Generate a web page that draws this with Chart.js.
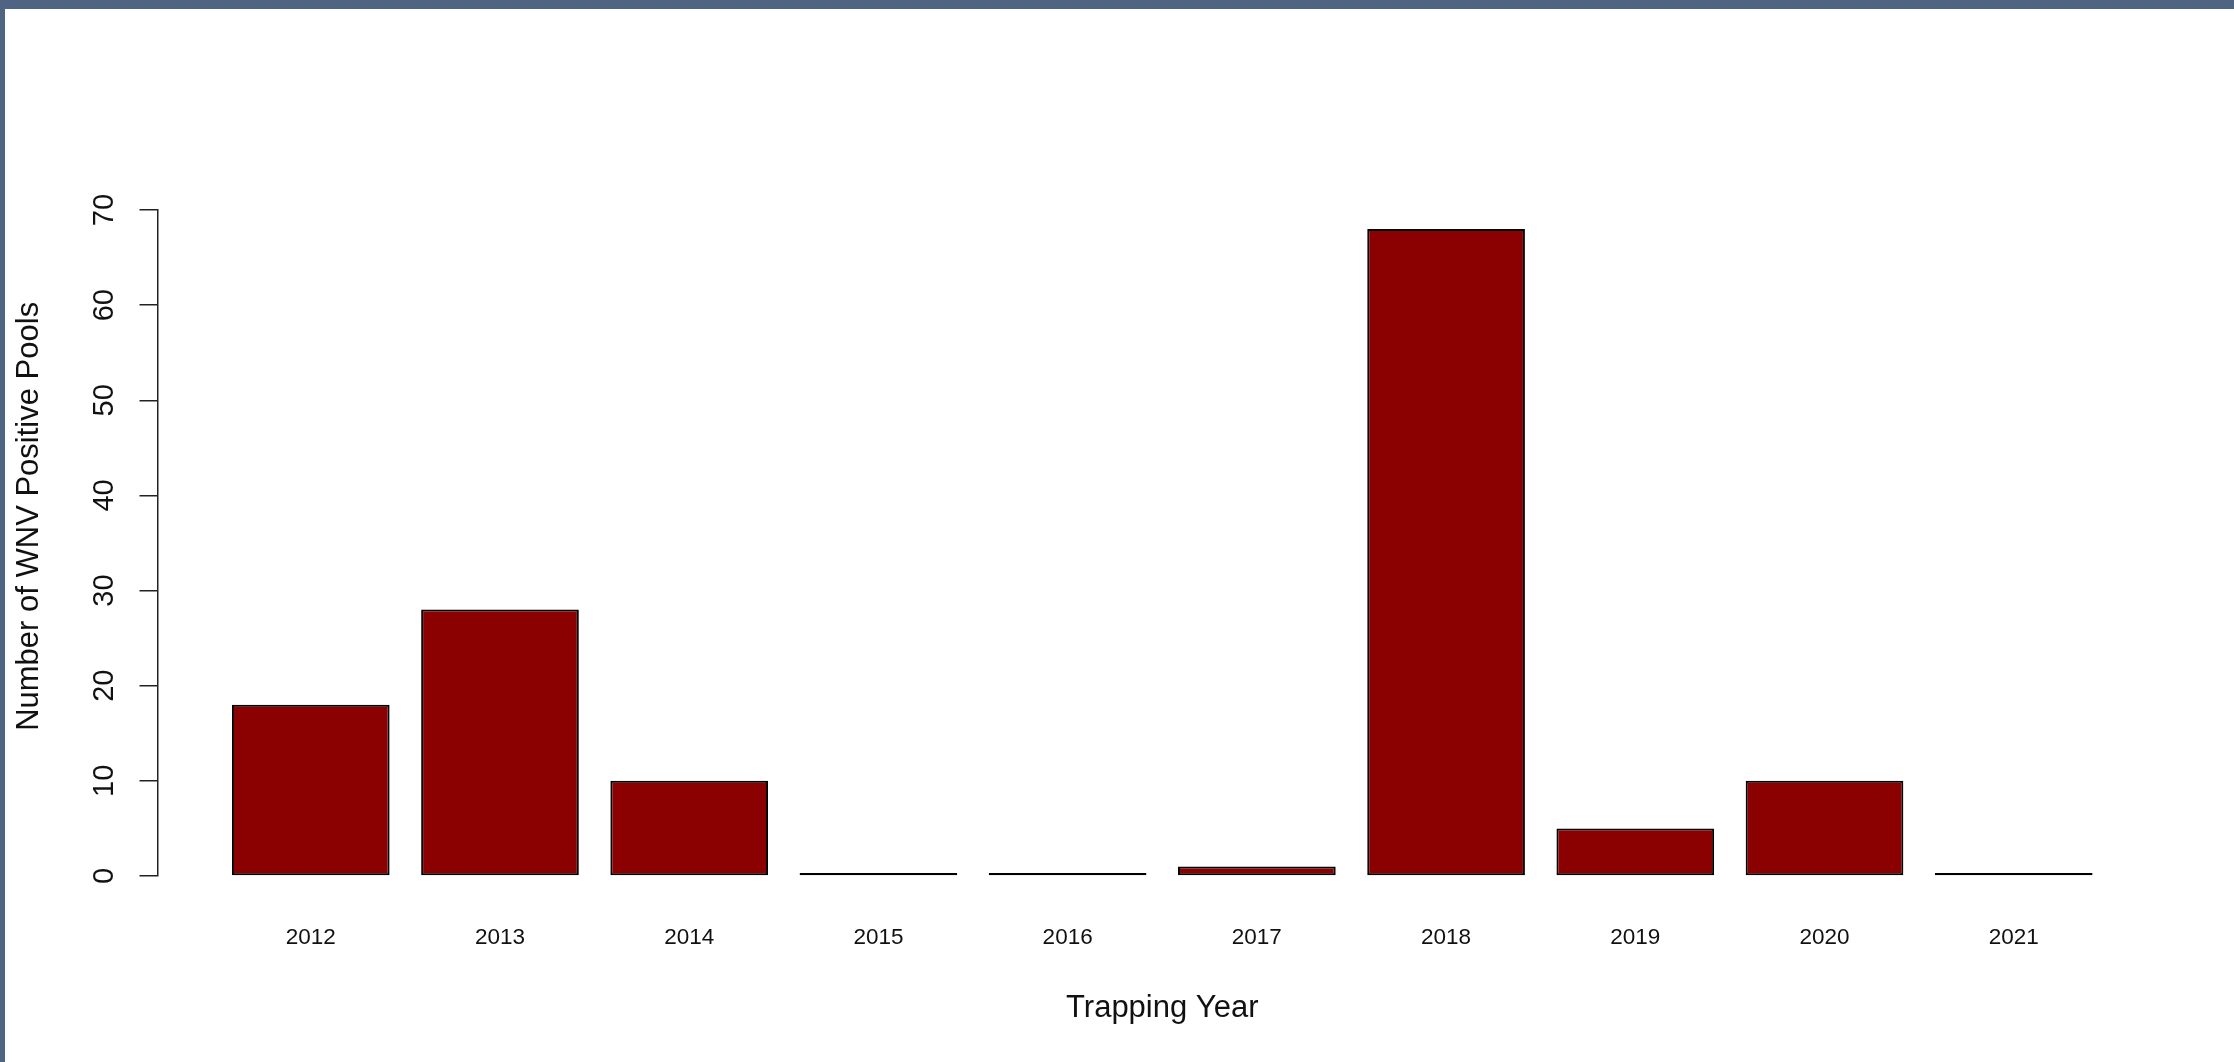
<!DOCTYPE html>
<html>
<head>
<meta charset="utf-8">
<title>WNV Positive Pools by Trapping Year</title>
<script src="https://cdn.jsdelivr.net/npm/chart.js@4.4.1/dist/chart.umd.min.js"></script>
<style>
  html, body { margin:0; padding:0; background:#fff; }
  .frame {
    position:absolute; left:0; top:0;
    width:2234px; height:1062px;
    box-sizing:border-box;
    border-top:9px solid #4f6482;
    border-left:5px solid #4f6482;
    background:#fff;
  }
  #wnv-chart { display:block; }
</style>
</head>
<body>
<div class="frame">
  <canvas id="wnv-chart" width="2229" height="1053"></canvas>
</div>

<script>
/* ═══════════════════════════════════
   DATA
═══════════════════════════════════ */
var years = [2012, 2013, 2014, 2015, 2016, 2017, 2018, 2019, 2020, 2021];
var positivePools = [18, 28, 10, 0, 0, 1, 68, 5, 10, 0];
var yTicks = [0, 10, 20, 30, 40, 50, 60, 70];

var FONT = "'Liberation Sans', Arial, sans-serif";
var Y_TITLE = 'Number of WNV Positive Pools';

/* ═══════════════════════════════════
   CHART
═══════════════════════════════════ */
document.addEventListener('DOMContentLoaded', function(){
  buildWnvChart();
});

// y label sits a little above the middle of the axis, like the R plot
var yTitlePlugin = {
  id:'yTitle',
  afterDraw:function(chart){
    var c = chart.ctx;
    var ys = chart.scales.y;
    c.save();
    c.translate(ys.left + 24, ys.getPixelForValue(37.8));
    c.rotate(-Math.PI/2);
    c.font = '31px ' + FONT;
    c.fillStyle = '#111';
    c.textAlign = 'center';
    c.textBaseline = 'middle';
    c.fillText(Y_TITLE, 0, 0);
    c.restore();
  }
};

function buildWnvChart(){
  var ctx = document.getElementById('wnv-chart');
  if(!ctx || ctx._ch) return;
  ctx._ch = new Chart(ctx, {
    type:'bar',
    data:{
      labels:years,
      datasets:[{
        label:'WNV Positive Pools',
        data:positivePools,
        backgroundColor:'#8b0000',
        borderColor:'#000',
        borderWidth:2,
        borderSkipped:false,
        minBarLength:3,
        barPercentage:1/1.2,
        categoryPercentage:1,
        clip:false
      }]
    },
    options:{
      responsive:false,
      animation:false,
      devicePixelRatio:1,
      layout:{padding:{top:201, right:67, bottom:0, left:0}},
      plugins:{legend:{display:false}, tooltip:{enabled:false}},
      scales:{
        x:{
          type:'linear',
          offset:false,
          min:2011.19,
          max:2021.81,
          afterBuildTicks:function(s){
            s.ticks = years.map(function(v){ return {value:v}; });
          },
          afterFit:function(s){ s.height = 186; },
          grid:{display:false, drawTicks:false, offset:false},
          border:{display:false},
          ticks:{
            autoSkip:false, maxRotation:0, padding:48,
            color:'#111', font:{family:FONT, size:22.5},
            callback:function(v){ return String(v); }
          },
          title:{
            display:true, text:'Trapping Year', color:'#111',
            font:{family:FONT, size:31}, padding:{top:0, bottom:34.5}
          }
        },
        y:{
          min:0,
          max:70,
          afterBuildTicks:function(s){
            s.ticks = yTicks.map(function(v){ return {value:v}; });
          },
          afterFit:function(s){ s.width = 152.5; },
          grid:{drawOnChartArea:false, tickLength:18, color:'#222', lineWidth:1.5},
          border:{display:true, color:'#222', width:1.5},
          ticks:{
            minRotation:90, maxRotation:90, crossAlign:'center', padding:18.5,
            color:'#111', font:{family:FONT, size:29}
          },
          title:{display:false}
        }
      }
    },
    plugins:[yTitlePlugin]
  });
}
</script>
</body>
</html>
